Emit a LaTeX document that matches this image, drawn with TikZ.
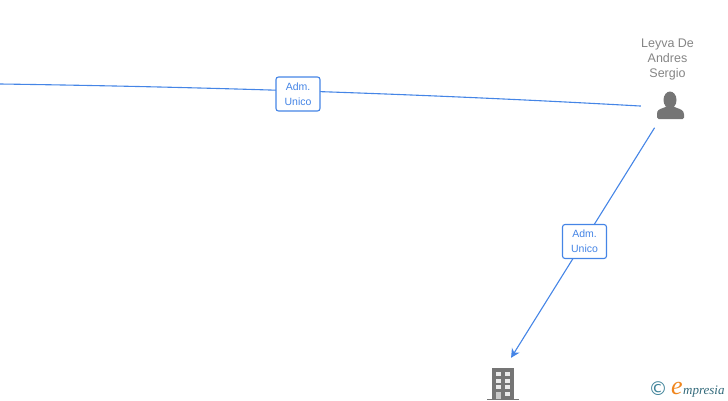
\documentclass[tikz,border=0pt]{standalone}
\usepackage{fontspec}
\usetikzlibrary{arrows.meta}
\setmainfont{Liberation Sans}
\newfontfamily\logofont[ItalicFont=Liberation Serif Italic]{Liberation Serif}
\newfontfamily\logosans{DejaVu Sans}
\definecolor{linkblue}{HTML}{4585E6}
\definecolor{iconcol}{HTML}{757575}
\definecolor{namecol}{HTML}{858585}
\definecolor{logoteal}{HTML}{3F8399}
\definecolor{logoorange}{HTML}{F0861E}
\tikzset{
  link/.style={draw=linkblue,line width=1.1pt},
  tag/.style={draw=linkblue,fill=white,rounded corners=2.5pt,line width=1.1pt,
    minimum width=44pt,minimum height=34pt,inner sep=0pt,align=center,
    text=linkblue,font=\fontsize{10.5}{15}\selectfont},
  holder/.style={circle,minimum size=58pt,inner sep=0pt}
}
\begin{document}
\begin{tikzpicture}[x=1pt,y=1pt]

            % page is (0,0) rectangle (728,400), y runs up
            \useasboundingbox (0,0) rectangle (728,400);

            \coordinate (start) at (0,316);
            \node [holder] (leyva) at (670,297) {};
            \node [holder] (office) at (495.6,17.4) {};

            % connectors
            \draw [link] (start) .. controls (213,313) and (427,306) .. (leyva.186);
            \draw [link,-{Stealth[length=9pt,width=9pt]}] (leyva) -- (office);

            \node [tag] (adm1) at (298,306) {Adm.\\Unico};
            \node [tag] (adm2) at (584.5,158.5) {Adm.\\Unico};

            % person
            \node [text=namecol,align=center,font=\fontsize{12.5}{15}\selectfont] (name) at (667.5,340.5) {Leyva De\\Andres\\Sergio};
            \scope
            \fill [iconcol] (670,300) ellipse (6.5 and 8.5);
            \fill [iconcol,rounded corners=1.5pt] (657,281) -- (657,287) .. controls (658,291) and (664,292) .. (667,294)
                -- (673,294) .. controls (676,292) and (682,291) .. (684,287) -- (684,281) -- cycle;
            \endscope

            % building
            \scope
            \fill [iconcol] (492,1) rectangle (514,32);
            \fill [iconcol] (487,0) rectangle (519,1.5);
            \foreach \wy in {24,17,11} {
                \fill [white!85!iconcol] (496,\wy) rectangle (501,\wy+4.5);
                \fill [white!85!iconcol] (505,\wy) rectangle (510,\wy+4.5);
            }
            \fill [white!85!iconcol] (505,4) rectangle (510,8.5);
            \fill [white!60!iconcol] (496,1) rectangle (501,8.5);
            \endscope

            % logo
            \node [text=logoteal,font=\logosans\fontsize{19}{19}\selectfont,inner sep=0pt] (copy) at (658,11) {©};
            \node [text=logoorange,font=\logofont\itshape\fontsize{26}{26}\selectfont,inner sep=0pt,anchor=base west] (ebig) at (671,5.5) {e};
            \node [text=logoteal!80!black,font=\logofont\itshape\fontsize{13}{15}\selectfont,inner sep=0pt,anchor=base west] (brand) at (683,6) {mpresia};
            \end{tikzpicture}
\end{document}
